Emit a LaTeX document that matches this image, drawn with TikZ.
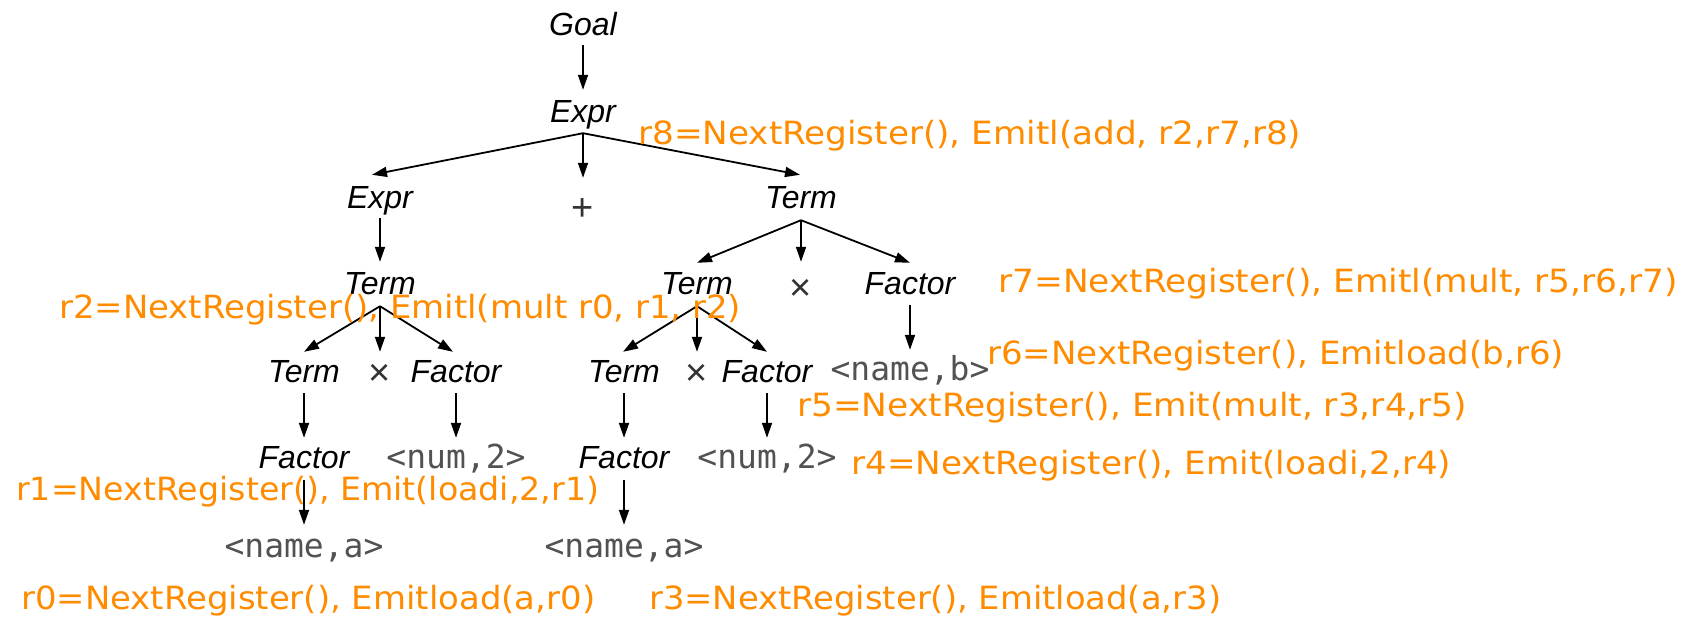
\documentclass[tikz,border=0pt]{standalone}
\usepackage{fontspec}
\usepackage{graphicx}
\usetikzlibrary{arrows.meta}
\setmainfont{Liberation Sans}
\newfontfamily\orfont{DejaVu Sans}
\newfontfamily\tokfont{DejaVu Sans Mono}
\definecolor{regorange}{RGB}{255,140,0}
\newcommand{\regtext}[2]{\resizebox{#1pt}{\height}{#2}}
\tikzset{
 tn/.style={font=\fontsize{32}{36}\selectfont\itshape, inner sep=0pt, text height=23pt, text depth=7pt, anchor=base},
 sym/.style={font=\fontsize{38}{40}\selectfont, text=black!80, inner sep=0pt, text height=23pt, text depth=7pt, anchor=base},
 tok/.style={font=\fontsize{33}{36}\tokfont, text=black!68, inner sep=0pt, text height=23pt, text depth=7pt, anchor=base},
 reg/.style={font=\fontsize{32}{36}\orfont, text=regorange, inner sep=0pt, anchor=base west},
 arr/.style={draw=black, line width=1.8pt, -{Triangle[length=15pt,width=10pt]}},
}
\begin{document}
\begin{tikzpicture}[x=1pt,y=-1pt]
\useasboundingbox (0,0) rectangle (1683,621);
% tree nodes
\node[tn] (goal) at (583,35) {Goal};
\node[tn] (e1) at (583,122) {Expr};
\node[tn] (e2) at (380,208) {Expr};
\node[sym] (plus) at (583,220) {+};
\node[tn] (t1) at (801,208) {Term};
\node[tn] (t2) at (380,294) {Term};
\node[tn] (t3) at (697,294) {Term};
\node[sym] (x0) at (801,300) {×};
\node[tn] (f1) at (910,294) {Factor};
\node[tn] (t4) at (304,382) {Term};
\node[sym] (x1) at (380,385) {×};
\node[tn] (f2) at (456,382) {Factor};
\node[tn] (t5) at (624,382) {Term};
\node[sym] (x2) at (697,385) {×};
\node[tn] (f3) at (767,382) {Factor};
\node[tok] (nb) at (910,380) {<name,b>};
\node[tn] (f4) at (304,468) {Factor};
\node[tok] (n1) at (456,468) {<num,2>};
\node[tn] (f5) at (624,468) {Factor};
\node[tok] (n2) at (767,468) {<num,2>};
\node[tok] (na1) at (304,557) {<name,a>};
\node[tok] (na2) at (624,557) {<name,a>};
% edges
\draw[arr] ([yshift=-3pt]goal.south) -- ([yshift=9pt]e1.north);
\draw[arr] ([yshift=-4pt]e1.south) -- ([xshift=-8pt,yshift=10pt]e2.north);
\draw[arr] ([yshift=-4pt]e1.south) -- ([yshift=19pt]plus.north);
\draw[arr] ([yshift=-4pt]e1.south) -- ([xshift=-1pt,yshift=10pt]t1.north);
\draw[arr] ([yshift=-3pt]e2.south) -- ([yshift=9pt]t2.north);
\draw[arr] ([yshift=-5pt]t1.south) -- ([yshift=8pt]t3.north);
\draw[arr] ([yshift=-5pt]t1.south) -- ([yshift=15pt]x0.north);
\draw[arr] ([yshift=-5pt]t1.south) -- ([yshift=8pt]f1.north);
\draw[arr] ([yshift=-5pt]t2.south) -- ([yshift=7pt]t4.north);
\draw[arr] ([yshift=-5pt]t2.south) -- ([yshift=10pt]x1.north);
\draw[arr] ([yshift=-5pt]t2.south) -- ([xshift=-3pt,yshift=7pt]f2.north);
\draw[arr] ([yshift=-5pt]t3.south) -- ([xshift=-1pt,yshift=7pt]t5.north);
\draw[arr] ([yshift=-5pt]t3.south) -- ([yshift=10pt]x2.north);
\draw[arr] ([yshift=-5pt]t3.south) -- ([yshift=7pt]f3.north);
\draw[arr] ([yshift=-4pt]f1.south) -- ([yshift=7pt]nb.north);
\draw[arr] ([yshift=-4pt]t4.south) -- ([yshift=7pt]f4.north);
\draw[arr] ([yshift=-4pt]f2.south) -- ([yshift=7pt]n1.north);
\draw[arr] ([yshift=-4pt]t5.south) -- ([yshift=7pt]f5.north);
\draw[arr] ([yshift=-4pt]f3.south) -- ([yshift=7pt]n2.north);
\draw[arr] ([yshift=-5pt]f4.south) -- ([yshift=9pt]na1.north);
\draw[arr] ([yshift=-5pt]f5.south) -- ([yshift=9pt]na2.north);
% annotations
\node[reg] (r8) at (638,144) {\regtext{663}{r8=NextRegister(), Emitl(add, r2,r7,r8)}};
\node[reg] (r2) at (59,318) {\regtext{682}{r2=NextRegister(), Emitl(mult r0, r1, r2)}};
\node[reg] (r7) at (998,292) {\regtext{680}{r7=NextRegister(), Emitl(mult, r5,r6,r7)}};
\node[reg] (r6) at (987,364) {\regtext{577}{r6=NextRegister(), Emitload(b,r6)}};
\node[reg] (r5) at (797,416) {\regtext{670}{r5=NextRegister(), Emit(mult, r3,r4,r5)}};
\node[reg] (r4) at (851,474) {\regtext{600}{r4=NextRegister(), Emit(loadi,2,r4)}};
\node[reg] (r1) at (16,500) {\regtext{583}{r1=NextRegister(), Emit(loadi,2,r1)}};
\node[reg] (r0) at (21,609) {\regtext{574}{r0=NextRegister(), Emitload(a,r0)}};
\node[reg] (r3) at (649,609) {\regtext{572}{r3=NextRegister(), Emitload(a,r3)}};
\end{tikzpicture}
\end{document}
